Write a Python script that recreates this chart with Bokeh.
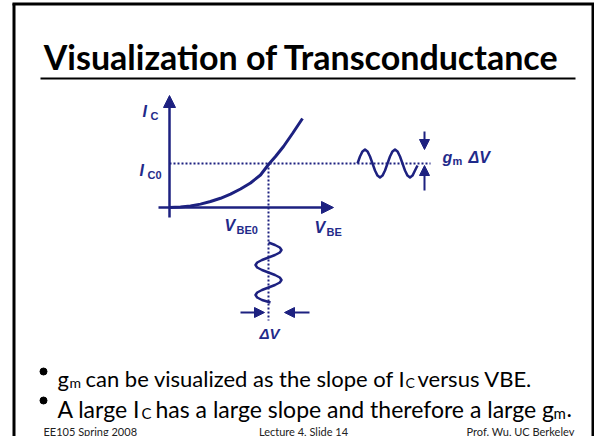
from bokeh.plotting import figure
from bokeh.models import Range1d, Arrow, NormalHead
from bokeh.core.properties import value
from bokeh.embed import file_html
from bokeh.resources import INLINE

# ---------------- data (slide-pixel coordinates) ----------------
title_text = "Visualization of Transconductance"

# I_C versus V_BE curve
curve_vbe = [169, 180, 190, 200, 210, 220, 230, 240, 250, 260, 268, 275, 283, 292, 302]
curve_ic = [207, 206.6, 205.5, 203.6, 201, 197.8, 193.6, 188.5, 182.5, 174.5, 164, 156, 146, 133, 118]

# bias point
vbe0 = 268
ic0 = 163

# output (current) swing, horizontal wave
out_x = [357, 359.5, 362, 364.5, 367, 369.5, 372, 374.5, 377, 379.5, 382, 384.5, 387,
         389.5, 392, 394.5, 397, 399.5, 402, 404.5, 407, 409.5, 412, 414.5, 417]
out_y = [163, 156, 150.9, 149, 150.9, 156, 163, 170, 175.1, 177, 175.1, 170, 163,
         156, 150.9, 149, 150.9, 156, 163, 170, 175.1, 177, 175.1, 170, 165]

# input (voltage) swing, vertical wave
in_x = [268, 274.5, 279.3, 281, 279.3, 274.5, 268, 261.5, 256.7, 255, 256.7, 261.5, 268,
        274.5, 279.3, 281, 279.3, 274.5, 268, 261.5, 256.7, 255, 256.7, 261.5, 270]
in_y = [242, 244.5, 247, 249.5, 252, 254.5, 257, 259.5, 262, 264.5, 267, 269.5, 272,
        274.5, 277, 279.5, 282, 284.5, 287, 289.5, 292, 294.5, 297, 299.5, 302]

bullet1 = ["g", "m", " can be visualized as the slope of I", "C", " versus VBE."]
bullet2 = ["A large I", "C", " has a large slope and therefore a large g", "m", "."]
footer = ["EE105 Spring 2008", "Lecture 4, Slide 14", "Prof. Wu, UC Berkeley"]

NAVY = "#1d2180"
LBL = "#1f2a8a"

W, H = 594, 436
p = figure(width=W, height=H, output_backend="svg", toolbar_location=None,
           x_range=Range1d(0, W), y_range=Range1d(H, 0),
           min_border=0, outline_line_color=None)
p.axis.visible = False
p.grid.visible = False
p.background_fill_color = "white"
p.border_fill_color = "white"

# slide frame
p.line([13.5, 13.5], [3, 436], line_color="black", line_width=3)
p.line([592.5, 592.5], [3, 436], line_color="black", line_width=3)
p.line([12, 594], [3.5, 3.5], line_color="black", line_width=3)

# title and rule
p.text([301], [56], text=[title_text], text_font=value("Lato"), text_font_style="bold",
       text_font_size="34px", text_align="center", text_baseline="alphabetic", text_color="black")
p.line([40, 575], [78, 78], line_color="black", line_width=2)

# axes with arrows
p.add_layout(Arrow(x_start=158, y_start=207, x_end=333, y_end=207, line_color=NAVY, line_width=2.5,
                   end=NormalHead(size=12, fill_color=NAVY, line_color=NAVY)))
p.add_layout(Arrow(x_start=169, y_start=217, x_end=169, y_end=95, line_color=NAVY, line_width=2.5,
                   end=NormalHead(size=12, fill_color=NAVY, line_color=NAVY)))

# curve
p.line(curve_vbe, curve_ic, line_color=NAVY, line_width=3)

# dotted guides
p.line([169, 430], [ic0, ic0], line_color=NAVY, line_width=2, line_dash="2 2")
p.line([vbe0, vbe0], [ic0, 320], line_color=NAVY, line_width=2, line_dash="2 2")

# waves
p.line(out_x, out_y, line_color=NAVY, line_width=2.5, line_join="round")
p.line(in_x, in_y, line_color=NAVY, line_width=2.5, line_join="round")

# amplitude arrows
for xs, ys, xe, ye in [(424, 131, 424, 149), (424, 190, 424, 165),
                       (240, 312, 264, 312), (309, 312, 284, 312)]:
    p.add_layout(Arrow(x_start=xs, y_start=ys, x_end=xe, y_end=ye, line_color=NAVY, line_width=2,
                       end=NormalHead(size=10, fill_color=NAVY, line_color=NAVY)))

F = value("Liberation Sans")
def lbl(x, y, t, size, italic=True):
    p.text([x], [y], text=[t], text_font=F, text_font_style="bold italic" if italic else "bold",
           text_font_size=size, text_color=LBL, text_baseline="alphabetic")

lbl(142, 111, "I", "16px"); lbl(150, 115, "C", "11px", False)
lbl(139, 170, "I", "16px"); lbl(147, 174, "C0", "11px", False)
lbl(224, 225, "V", "16px"); lbl(236, 229, "BE0", "11px", False)
lbl(314, 227, "V", "16px"); lbl(326, 231, "BE", "11px", False)
lbl(442, 157, "g", "16px"); lbl(452, 160, "m", "11px", False); lbl(468, 157, "\u0394V", "16px")
lbl(259, 333, "\u0394V", "15px")

# bullets
BF = value("Lato")
def txt(x, y, t, size, color="black", align="left"):
    p.text([x], [y], text=[t], text_font=BF, text_font_size=size, text_color=color,
           text_baseline="alphabetic", text_align=align)

p.scatter([43, 43], [371, 400], size=7, color="black")
txt(57, 378, bullet1[0], "22px"); txt(69, 382, bullet1[1], "14px")
txt(85, 378, bullet1[2], "22px"); txt(405, 382, bullet1[3], "14px")
txt(417, 378, bullet1[4], "22px")
txt(57, 408, bullet2[0], "23px"); txt(141, 412, bullet2[1], "15px")
txt(155, 408, bullet2[2], "23px"); txt(553, 412, bullet2[3], "15px")
txt(566, 408, bullet2[4], "23px")

txt(43, 431, footer[0], "11px", "#222222")
txt(303, 431, footer[1], "11px", "#222222", "center")
txt(574, 431, footer[2], "11px", "#222222", "right")

open("out.html", "w").write(file_html(p, INLINE))
